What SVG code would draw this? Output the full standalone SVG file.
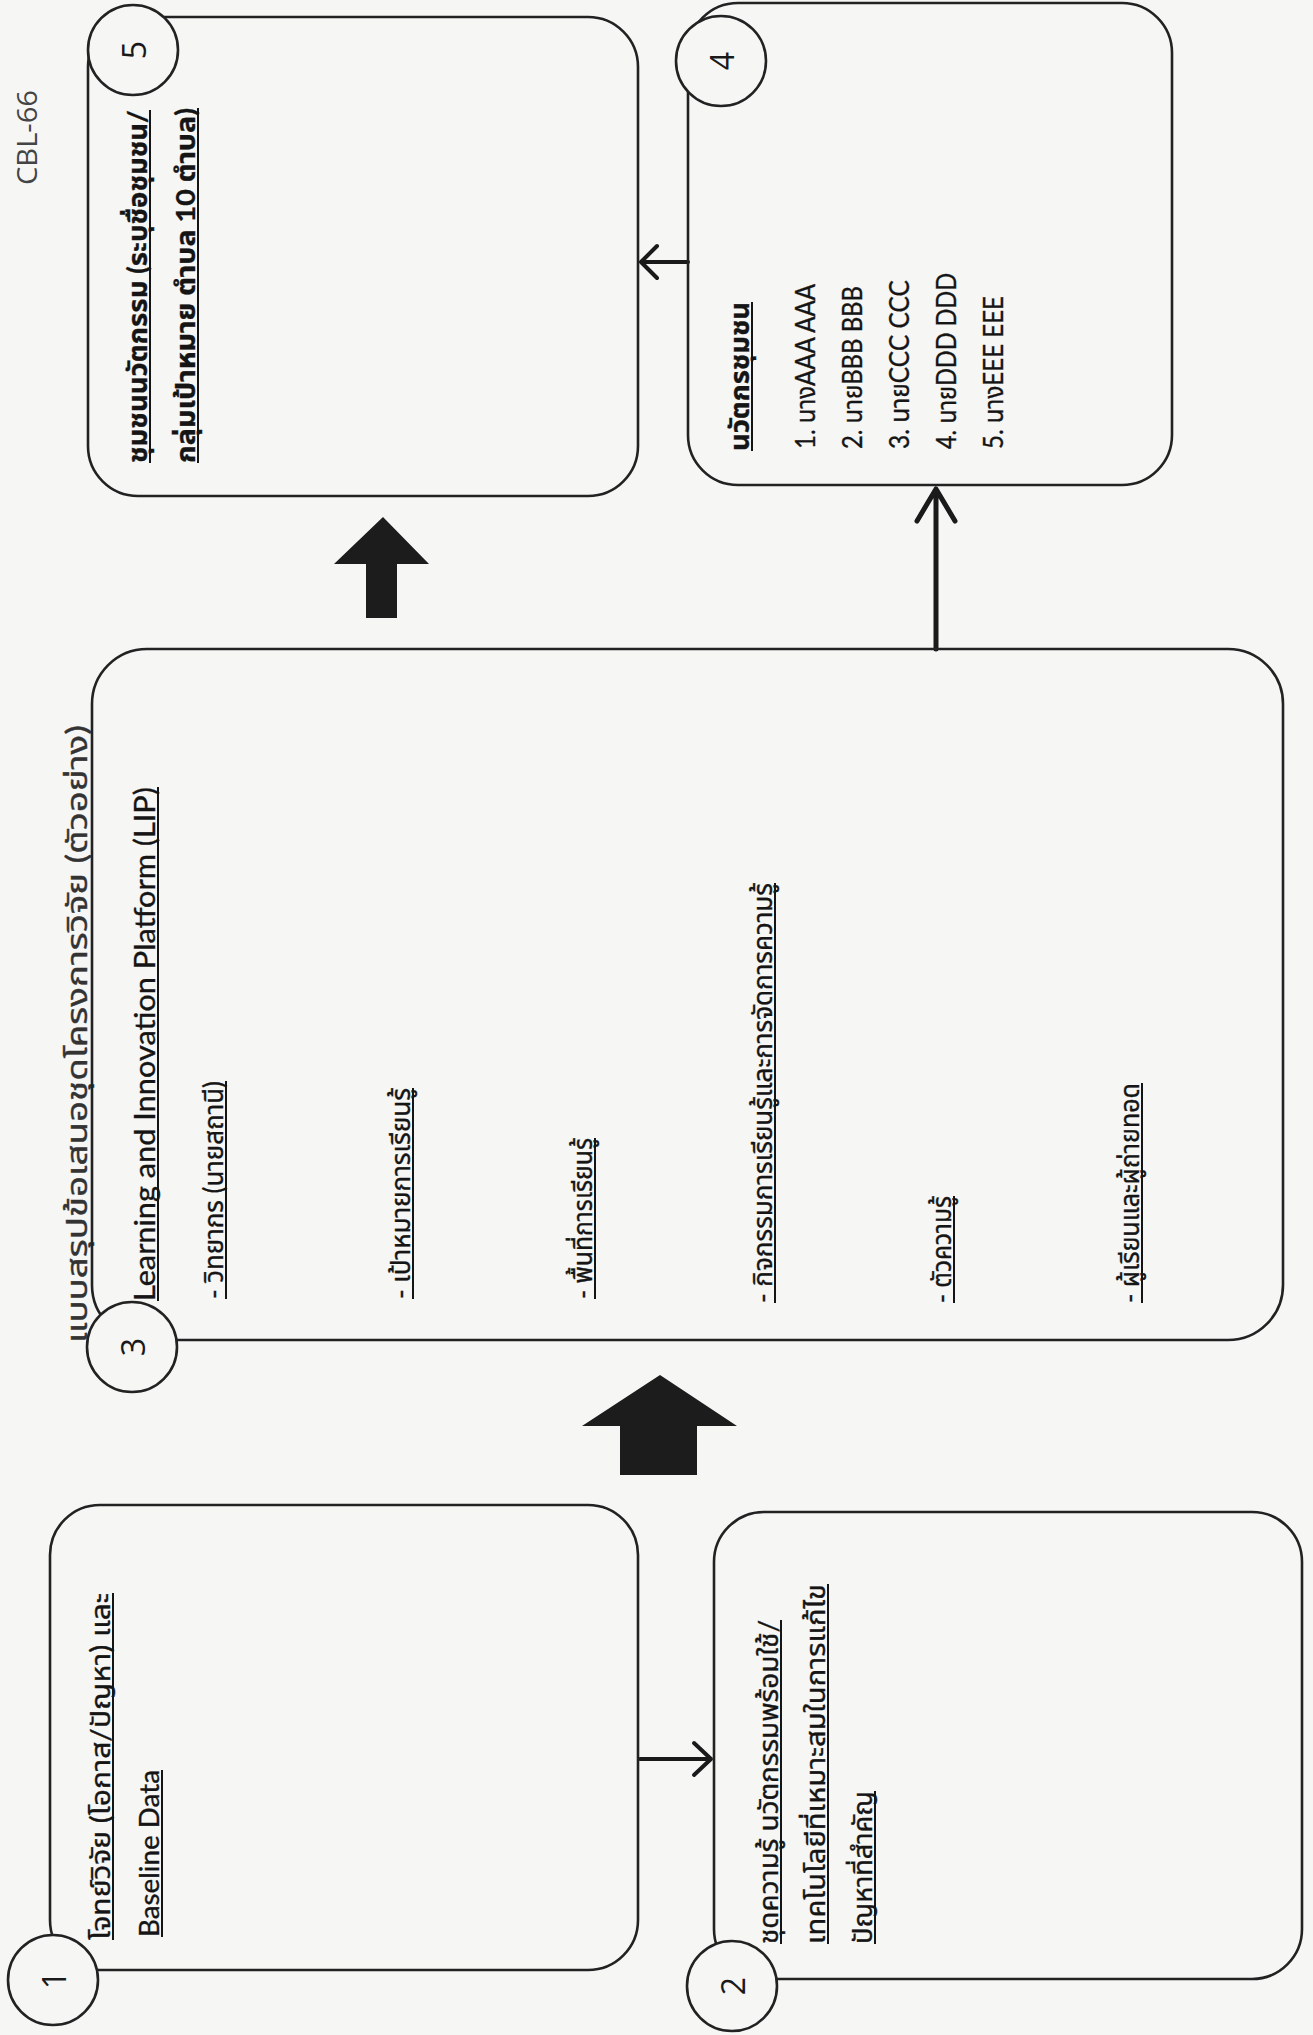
<svg xmlns="http://www.w3.org/2000/svg" width="1313" height="2035" viewBox="0 0 1313 2035">
<style>
.bg{fill:#f6f6f5}
.box{fill:none;stroke:#222;stroke-width:2.6}
.num{fill:#f6f6f5;stroke:#222;stroke-width:2.6}
.t{font-family:Lato,'Noto Sans Thai','Noto Sans',sans-serif;font-size:26px;fill:#151515;stroke:#151515;stroke-width:0.35}
.b{font-weight:bold}
.ul{stroke:#151515;stroke-width:2;fill:none}
.n{font-family:'Open Sans',sans-serif;font-size:32px;fill:#1a1a1a;text-anchor:middle;dominant-baseline:central}
.conn{stroke:#1a1a1a;stroke-width:4;fill:none;stroke-linecap:round;stroke-linejoin:round}
.big{fill:#1c1c1c}
</style>
<rect class="bg" x="0" y="0" width="1313" height="2035"/>

<text id="page-code" class="t" style="font-family:'Open Sans',sans-serif;font-size:27px;fill:#444;stroke:none" x="37" y="185" transform="rotate(-90 37 185)" textLength="95" lengthAdjust="spacingAndGlyphs">CBL-66</text>
<text id="title" class="t" style="font-size:28px;fill:#333;stroke:#333" x="87" y="1343" transform="rotate(-90 87 1343)" textLength="618" lengthAdjust="spacingAndGlyphs">แบบสรุปข้อเสนอชุดโครงการวิจัย (ตัวอย่าง)</text>

<g id="connectors">
  <path class="conn" d="M640 1759 H711 M694 1743 L711 1759 L694 1775"/>
  <path class="conn" d="M688 262 H641 M657 246 L641 262 L657 278"/>
  <path class="conn" style="stroke-width:5" d="M936 649 V489 M917 521 L936 489 L955 521"/>
  <polygon class="big" points="660,1375 737,1426 697,1426 697,1475 620,1475 620,1426 582,1426"/>
  <polygon class="big" points="383,517 429,564 397,564 397,618 366,618 366,564 334,564"/>
</g>

<g id="node1">
  <rect class="box" x="50" y="1505" width="588" height="465" rx="50"/>
  <circle class="num" cx="53" cy="1980" r="45"/>
  <text class="n" x="53" y="1980" transform="rotate(-90 53 1980)">1</text>
  <text class="t" x="110" y="1940" transform="rotate(-90 110 1940)" textLength="347" lengthAdjust="spacingAndGlyphs">โจทย์วิจัย (โอกาส/ปัญหา) และ</text>
  <text class="t" x="159" y="1937" transform="rotate(-90 159 1937)" textLength="167" lengthAdjust="spacingAndGlyphs">Baseline Data</text>
  <path class="ul" d="M113 1940 V1593 M162 1937 V1770"/>
</g>

<g id="node2">
  <rect class="box" x="714" y="1512" width="588" height="467" rx="50"/>
  <circle class="num" cx="732" cy="1986" r="45"/>
  <text class="n" x="732" y="1986" transform="rotate(-90 732 1986)">2</text>
  <text class="t" x="778" y="1944" transform="rotate(-90 778 1944)" textLength="324" lengthAdjust="spacingAndGlyphs">ชุดความรู้ นวัตกรรมพร้อมใช้/</text>
  <text class="t" x="825" y="1944" transform="rotate(-90 825 1944)" textLength="360" lengthAdjust="spacingAndGlyphs">เทคโนโลยีที่เหมาะสมในการแก้ไข</text>
  <text class="t" x="872" y="1944" transform="rotate(-90 872 1944)" textLength="153" lengthAdjust="spacingAndGlyphs">ปัญหาที่สำคัญ</text>
  <path class="ul" d="M781 1944 V1620 M828 1944 V1584 M875 1944 V1791"/>
</g>

<g id="node3">
  <rect class="box" x="92" y="649" width="1191" height="691" rx="55"/>
  <circle class="num" cx="132" cy="1347" r="45"/>
  <text class="n" x="132" y="1347" transform="rotate(-90 132 1347)">3</text>
  <text class="t" style="font-size:28px" x="155" y="1301" transform="rotate(-90 155 1301)" textLength="514" lengthAdjust="spacingAndGlyphs">Learning and Innovation Platform (LIP)</text>
  <text class="t" x="223" y="1299" transform="rotate(-90 223 1299)" textLength="218" lengthAdjust="spacingAndGlyphs">- วิทยากร (นายสถานี)</text>
  <text class="t" x="410" y="1299" transform="rotate(-90 410 1299)" textLength="211" lengthAdjust="spacingAndGlyphs">- เป้าหมายการเรียนรู้</text>
  <text class="t" x="592" y="1299" transform="rotate(-90 592 1299)" textLength="161" lengthAdjust="spacingAndGlyphs">- พื้นที่การเรียนรู้</text>
  <text class="t" x="772" y="1303" transform="rotate(-90 772 1303)" textLength="420" lengthAdjust="spacingAndGlyphs">- กิจกรรมการเรียนรู้และการจัดการความรู้</text>
  <text class="t" x="951" y="1303" transform="rotate(-90 951 1303)" textLength="107" lengthAdjust="spacingAndGlyphs">- ตัวความรู้</text>
  <text class="t" x="1139" y="1303" transform="rotate(-90 1139 1303)" textLength="220" lengthAdjust="spacingAndGlyphs">- ผู้เรียนและผู้ถ่ายทอด</text>
  <path class="ul" d="M158 1301 V787 M226 1299 V1081 M413 1299 V1088 M595 1299 V1138 M775 1303 V883 M954 1303 V1196 M1142 1303 V1083"/>
</g>

<g id="node4">
  <rect class="box" x="688" y="3" width="484" height="482" rx="50"/>
  <circle class="num" cx="721" cy="61" r="45"/>
  <text class="n" x="721" y="61" transform="rotate(-90 721 61)">4</text>
  <text class="t b" x="749" y="451" transform="rotate(-90 749 451)" textLength="149" lengthAdjust="spacingAndGlyphs">นวัตกรชุมชน</text>
  <path class="ul" d="M752 451 V302"/>
  <text class="t" x="815" y="449" transform="rotate(-90 815 449)" textLength="165" lengthAdjust="spacingAndGlyphs">1. นางAAA AAA</text>
  <text class="t" x="862" y="449" transform="rotate(-90 862 449)" textLength="163" lengthAdjust="spacingAndGlyphs">2. นายBBB BBB</text>
  <text class="t" x="909" y="449" transform="rotate(-90 909 449)" textLength="169" lengthAdjust="spacingAndGlyphs">3. นายCCC CCC</text>
  <text class="t" x="956" y="449" transform="rotate(-90 956 449)" textLength="176" lengthAdjust="spacingAndGlyphs">4. นายDDD DDD</text>
  <text class="t" x="1003" y="449" transform="rotate(-90 1003 449)" textLength="153" lengthAdjust="spacingAndGlyphs">5. นางEEE EEE</text>
</g>

<g id="node5">
  <rect class="box" x="88" y="17" width="550" height="479" rx="50"/>
  <circle class="num" cx="133" cy="50" r="45"/>
  <text class="n" x="133" y="50" transform="rotate(-90 133 50)">5</text>
  <text class="t b" x="147" y="463" transform="rotate(-90 147 463)" textLength="353" lengthAdjust="spacingAndGlyphs">ชุมชนนวัตกรรม (ระบุชื่อชุมชน/</text>
  <text class="t b" x="195" y="463" transform="rotate(-90 195 463)" textLength="355" lengthAdjust="spacingAndGlyphs">กลุ่มเป้าหมาย ตำบล 10 ตำบล)</text>
  <path class="ul" d="M150 463 V110 M198 463 V108"/>
</g>
</svg>
